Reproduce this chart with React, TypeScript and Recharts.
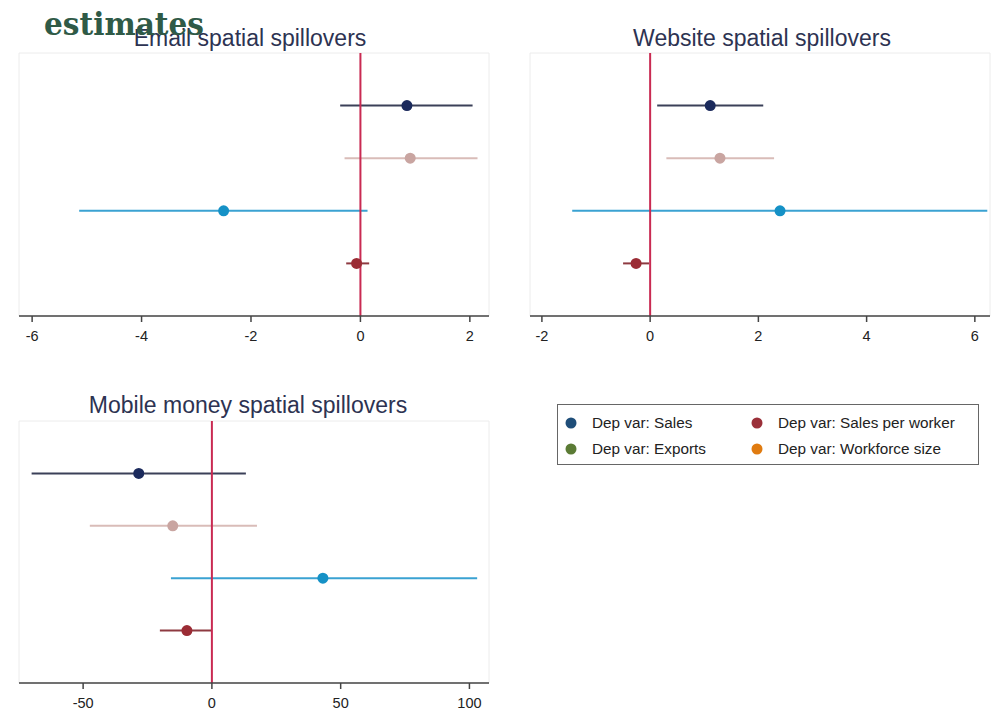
import {
  ScatterChart,
  Scatter,
  XAxis,
  YAxis,
  ErrorBar,
  ReferenceLine,
  ReferenceArea,
} from 'recharts';

// row order top to bottom
const ROW_POS = [4, 3, 2, 1];
const ROW_DOT = ['#1b2a5c', '#c9a5a1', '#1591c6', '#9b2c35'];
const ROW_LINE = ['#3b4058', '#d9bcb8', '#3aa2d2', '#8e3a41'];

const EMAIL_EST = [0.85, 0.91, -2.5, -0.07];
const EMAIL_LO = [-0.37, -0.29, -5.14, -0.26];
const EMAIL_HI = [2.05, 2.14, 0.13, 0.16];
const EMAIL_TICKS = [-6, -4, -2, 0, 2];

const WEB_EST = [1.11, 1.29, 2.4, -0.26];
const WEB_LO = [0.13, 0.3, -1.44, -0.5];
const WEB_HI = [2.09, 2.29, 6.23, -0.02];
const WEB_TICKS = [-2, 0, 2, 4, 6];

const MM_EST = [-28.4, -15.2, 43.1, -9.7];
const MM_LO = [-70, -47.4, -15.9, -20.2];
const MM_HI = [13.2, 17.5, 103, 0];
const MM_TICKS = [-50, 0, 50, 100];

const LEGEND_LABELS = [
  'Dep var: Sales',
  'Dep var: Sales per worker',
  'Dep var: Exports',
  'Dep var: Workforce size',
];
const LEGEND_COLORS = ['#1f4e79', '#9b3039', '#5b7b35', '#e07b10'];

const SANS = '"Liberation Sans", Arial, sans-serif';

interface PanelProps {
  est: number[];
  lo: number[];
  hi: number[];
  ticks: number[];
  domain: [number, number];
  width: number;
  height: number;
  margin: { top: number; right: number; bottom: number; left: number };
}

function Dot(props: any) {
  return <circle cx={props.cx} cy={props.cy} r={5.5} fill={props.fill} />;
}

function CoefPanel({ est, lo, hi, ticks, domain, width, height, margin }: PanelProps) {
  return (
    <ScatterChart width={width} height={height} margin={margin}>
      <XAxis
        type="number"
        dataKey="x"
        domain={domain}
        ticks={ticks}
        allowDataOverflow
        height={30}
        axisLine={{ stroke: '#444', strokeWidth: 1.5 }}
        tickLine={{ stroke: '#444', strokeWidth: 1.5 }}
        tickSize={6}
        tickMargin={9}
        tick={{ fill: '#222', fontSize: 14.5, fontFamily: SANS }}
      />
      <YAxis type="number" dataKey="y" domain={[0, 5]} allowDataOverflow hide />
      <ReferenceArea
        x1={domain[0]}
        x2={domain[1]}
        y1={0}
        y2={5}
        fill="none"
        stroke="#ececec"
      />
      {est.map((v, i) => (
        <Scatter
          key={i}
          data={[{ x: v, y: ROW_POS[i], err: [v - lo[i], hi[i] - v] }]}
          fill={ROW_DOT[i]}
          shape={Dot}
          isAnimationActive={false}
        >
          <ErrorBar
            direction="x"
            dataKey="err"
            width={0}
            stroke={ROW_LINE[i]}
            strokeWidth={2}
            isAnimationActive={false}
          />
        </Scatter>
      ))}
      <ReferenceLine x={0} stroke="#c92a52" strokeWidth={2} />
    </ScatterChart>
  );
}

export default function App() {
  return (
    <div
      style={{
        position: 'absolute',
        left: 0,
        top: 0,
        width: 992,
        height: 711,
        background: '#fff',
        overflow: 'hidden',
      }}
    >
      <div style={{ position: 'absolute', left: 0, top: 0 }}>
        <CoefPanel
          est={EMAIL_EST}
          lo={EMAIL_LO}
          hi={EMAIL_HI}
          ticks={EMAIL_TICKS}
          domain={[-6.24, 2.35]}
          width={500}
          height={360}
          margin={{ top: 53, right: 11, left: 19, bottom: 14 }}
        />
      </div>
      <div style={{ position: 'absolute', left: 500, top: 0 }}>
        <CoefPanel
          est={WEB_EST}
          lo={WEB_LO}
          hi={WEB_HI}
          ticks={WEB_TICKS}
          domain={[-2.22, 6.28]}
          width={492}
          height={360}
          margin={{ top: 53, right: 2, left: 30, bottom: 14 }}
        />
      </div>
      <div style={{ position: 'absolute', left: 0, top: 370 }}>
        <CoefPanel
          est={MM_EST}
          lo={MM_LO}
          hi={MM_HI}
          ticks={MM_TICKS}
          domain={[-74.9, 107.6]}
          width={500}
          height={341}
          margin={{ top: 51, right: 11, left: 19, bottom: -2 }}
        />
      </div>
      <svg
        width={992}
        height={711}
        style={{ position: 'absolute', left: 0, top: 0, pointerEvents: 'none' }}
      >
        <g fontFamily={SANS} fill="#2d3352" fontSize={23} textAnchor="middle">
          <text x={250} y={46}>Email spatial spillovers</text>
          <text x={762} y={46}>Website spatial spillovers</text>
          <text x={248} y={413}>Mobile money spatial spillovers</text>
        </g>
        <text
          x={44}
          y={35}
          fontFamily='"DejaVu Serif", serif'
          fontWeight="bold"
          fontSize={31}
          fill="#2f5a47"
          textLength={160}
          lengthAdjust="spacingAndGlyphs"
        >
          estimates
        </text>
        <rect x={557.5} y={404.5} width={421} height={60} fill="#fff" stroke="#666" />
        {LEGEND_LABELS.map((label, i) => {
          const col = i % 2;
          const row = Math.floor(i / 2);
          const dx = col === 0 ? 571 : 757;
          const cy = row === 0 ? 423 : 449;
          return (
            <g key={label}>
              <circle cx={dx} cy={cy} r={5.5} fill={LEGEND_COLORS[i]} />
              <text
                x={dx + 21}
                y={cy + 5}
                fontFamily={SANS}
                fontSize={15.3}
                fill="#222"
              >
                {label}
              </text>
            </g>
          );
        })}
      </svg>
    </div>
  );
}
